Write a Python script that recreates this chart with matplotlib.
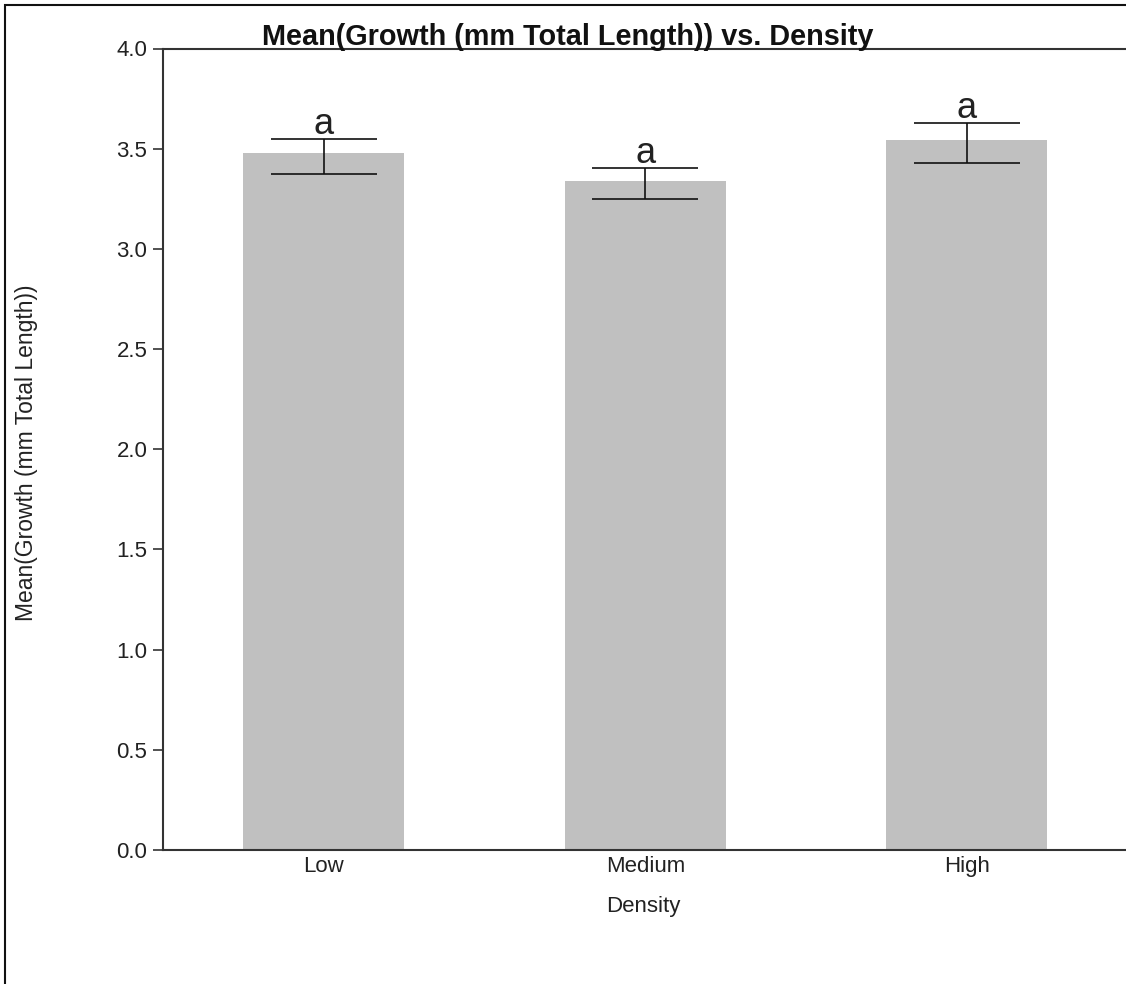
import matplotlib
matplotlib.use("Agg")
import matplotlib.pyplot as plt
from matplotlib.patches import Rectangle

plt.rcParams['font.family'] = ['Liberation Sans', 'DejaVu Sans']

# Group means and error-bar limits
categories = ["Low", "Medium", "High"]
means = [3.477, 3.339, 3.542]
err_upper = [3.550, 3.404, 3.627]
err_lower = [3.375, 3.247, 3.430]
letters = ["a", "a", "a"]
yticks = [0.0, 0.5, 1.0, 1.5, 2.0, 2.5, 3.0, 3.5, 4.0]

W, H = 1126, 984
fig = plt.figure(figsize=(W / 100, H / 100), dpi=100)

ax_left, ax_right, ax_top, ax_bottom = 163, 1127.5, 48.5, 850
ax = fig.add_axes([ax_left / W, (H - ax_bottom) / H,
                   (ax_right - ax_left) / W, (ax_bottom - ax_top) / H])

x = list(range(len(categories)))
ax.bar(x, means, width=0.5, color="#c0c0c0", zorder=1)

yerr = [[m - lo for m, lo in zip(means, err_lower)],
        [hi - m for m, hi in zip(means, err_upper)]]
ax.errorbar(x, means, yerr=yerr, fmt="none", ecolor="#111111",
            elinewidth=1.2, capsize=38, capthick=1.2, zorder=3)

for xi, hi, lab in zip(x, err_upper, letters):
    ax.annotate(lab, (xi, hi), xytext=(0, 3.5), textcoords="offset points",
                ha="center", va="baseline", fontsize=26, color="#222222")

ax.set_xlim(-0.5, 2.5)
ax.set_ylim(0, 4.0)
ax.set_yticks(yticks)
ax.set_yticklabels([f"{v:.1f}" for v in yticks])
ax.set_xticks(x)
ax.set_xticklabels(categories)

for side in ("left", "top", "bottom"):
    ax.spines[side].set_color("#333333")
    ax.spines[side].set_linewidth(1.5)
ax.spines["right"].set_visible(False)

ax.tick_params(axis="y", length=7.2, width=1.2, color="#333333",
               pad=4.0, labelsize=16, labelcolor="#222222")
ax.tick_params(axis="x", length=0, pad=4.0, labelsize=16,
               labelcolor="#222222")

ax.set_ylabel("Mean(Growth (mm Total Length))", fontsize=16.5,
              color="#222222", va="center")
ax.yaxis.set_label_coords((27 - ax_left) / (ax_right - ax_left), 0.496)
ax.set_xlabel("Density", fontsize=16, color="#222222", va="baseline")
ax.xaxis.set_label_coords(0.4985, (ax_bottom - 912) / (ax_bottom - ax_top))

fig.text(568 / W, (H - 45) / H, "Mean(Growth (mm Total Length)) vs. Density",
         ha="center", va="baseline", fontsize=20.8, fontweight="bold",
         color="#111111")

# Outer frame around the whole graphic
fig.patches.append(Rectangle((5 / W, -0.02), 1.1, 1.02 - 5 / H,
                             transform=fig.transFigure, fill=False,
                             edgecolor="#111111", linewidth=1.5))

fig.savefig("out.png", dpi=100)
